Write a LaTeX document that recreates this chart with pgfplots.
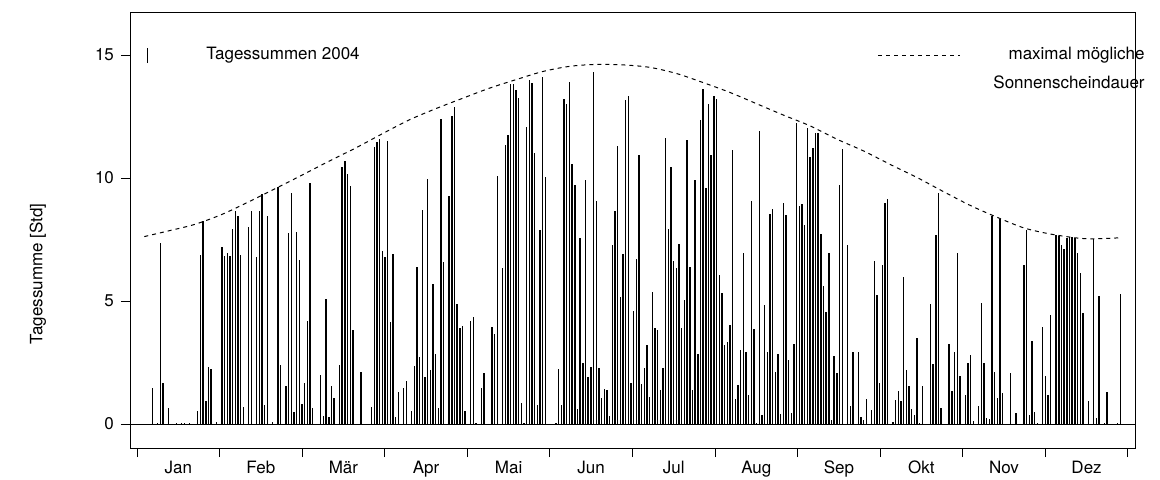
\documentclass[border=0pt]{standalone}
\usepackage{fontspec}
\setmainfont{TeX Gyre Heros}
\usepackage{pgfplots}
\pgfplotsset{compat=1.18}
\begin{document}
\begin{tikzpicture}
\begin{axis}[
  name=ax,
  at={(0,0)}, anchor=south west,
  scale only axis,
  width=502.5pt, height=218pt,
  xmin=-4.35, xmax=371.5,
  ymin=-0.976, ymax=16.75,
  axis line style={line width=0.5pt},
  tick align=outside,
  xtick pos=bottom, ytick pos=left,
  ytick={0,5,10,15},
  major tick length=4.5pt,
  tick style={black, line width=0.5pt},
  xtick={-1.73,29.15,60.03,90.91,121.79,152.67,183.55,214.43,245.31,276.19,307.07,337.95,368.83},
  xticklabels={},
  extra x ticks={13.71,44.59,75.47,106.35,137.23,168.11,198.99,229.87,260.75,291.63,322.51,353.39},
  extra x tick labels={Jan,Feb,Mär,Apr,Mai,Jun,Jul,Aug,Sep,Okt,Nov,Dez},
  extra x tick style={major tick length=0pt, xticklabel style={yshift=-3pt}},
  ticklabel style={font=\fontsize{8.5}{10}\selectfont},
  /pgf/number format/assume math mode=true,
  clip=false,
]
% zero line
\addplot[black, line width=0.5pt] coordinates {(-4.35,0) (371.5,0)};
% daily sums
\addplot[ycomb, black, line width=0.7pt, mark=none] coordinates {
(4,1.48) (6,0.05) (7,7.35) (8,1.65) (10,0.66) (13,0.05) (15,0.05) (16,0.05) (18,0.05) (21,0.53) (22,6.88) (23,8.25) (24,0.93) (25,2.33) (26,2.25) (28,0.1)
(30,7.21) (31,6.84) (32,6.94) (33,6.83) (34,7.93) (35,8.66) (36,8.46) (37,6.88) (38,0.68) (40,8.02) (41,8.64) (43,6.80) (44,8.65) (45,9.35) (46,0.77) (47,8.44) (49,0.1) (51,9.63) (52,2.39) (54,1.56) (55,7.76) (56,9.39) (57,0.49) (58,7.79) (59,6.65) (60,0.82) (61,1.66)
(62,4.2) (63,9.81) (64,0.64) (67,1.99) (68,0.33) (69,5.07) (70,0.28) (71,1.54) (72,1.06) (74,2.40) (75,10.46) (76,10.69) (77,10.15) (78,9.67) (79,3.83) (82,2.13) (86,0.69) (87,11.25) (88,11.48) (89,11.59) (90,7.02) (91,6.78)
(92,11.50) (93,4.16) (94,6.92) (95,0.30) (96,1.30) (98,1.48) (99,1.73) (101,0.53) (102,2.37) (103,6.40) (104,2.74) (105,8.69) (106,1.92) (107,9.96) (108,2.20) (109,5.69) (110,2.83) (111,0.65) (112,12.39) (113,6.59) (115,9.28) (116,12.52) (117,12.90) (118,4.87) (119,3.92) (120,3.98) (121,0.52)
(123,4.19) (124,4.35) (125,0.05) (127,1.46) (128,2.09) (131,3.94) (132,3.65) (133,10.08) (135,6.34) (136,11.34) (137,11.73) (138,13.81) (139,13.82) (140,13.58) (141,13.27) (142,0.85) (143,0.05) (144,12.07) (145,13.97) (146,13.85) (147,11.03) (148,0.77) (149,7.89) (150,14.09) (151,10.05)
(155,0.05) (156,2.22) (157,0.77) (158,13.2) (159,13.0) (160,13.89) (161,10.56) (162,9.73) (163,0.61) (164,7.55) (165,2.47) (166,9.91) (167,1.91) (168,2.30) (169,14.3) (170,9.05) (171,2.28) (172,1.06) (173,1.41) (174,1.37) (175,0.31) (176,7.28) (177,8.67) (178,11.29) (179,5.15) (180,6.90) (181,13.17) (182,13.32) (183,1.66) (184,4.59) (185,6.71)
(186,10.93) (187,1.61) (188,2.26) (189,3.22) (190,1.10) (191,5.35) (192,3.92) (193,3.82) (194,1.40) (195,2.26) (196,11.63) (197,7.93) (198,10.46) (199,6.61) (200,6.34) (201,7.32) (202,3.91) (203,5.05) (204,11.56) (205,6.38) (206,1.39) (207,9.91) (208,2.85) (209,12.36) (210,13.6) (211,9.61) (212,13.0) (213,10.92) (214,13.32) (215,13.23)
(216,6.06) (217,5.31) (218,3.21) (219,3.32) (220,4.02) (221,11.14) (222,1.03) (223,1.59) (224,3.0) (225,6.95) (226,2.91) (227,1.17) (228,9.05) (229,3.87) (230,0.05) (231,11.91) (232,0.37) (233,4.82) (234,2.91) (235,8.52) (236,8.73) (237,2.10) (238,2.83) (239,0.41) (240,8.97) (241,8.50) (242,2.60) (243,0.46) (244,3.26) (245,12.25) (246,8.86) (247,8.93)
(248,8.09) (249,12.02) (250,10.87) (251,11.21) (252,11.83) (253,11.82) (254,7.72) (255,5.61) (256,4.55) (257,6.94) (258,0.16) (259,2.75) (260,2.06) (261,9.73) (262,11.19) (264,7.29) (265,0.73) (266,2.93) (268,2.93) (269,0.28) (270,0.16) (271,1.03) (273,0.56) (274,6.63) (275,5.24) (276,1.65) (277,6.46) (278,8.97) (279,9.13)
(281,0.1) (282,0.98) (283,1.33) (284,0.92) (285,5.98) (286,2.18) (287,1.56) (288,0.60) (289,0.35) (290,3.48) (291,0.05) (292,1.53) (295,4.86) (296,2.44) (297,7.67) (298,9.39) (299,0.65) (302,3.25) (303,1.35) (304,2.94) (305,6.94) (306,1.95) (308,1.18) (309,2.49) (310,2.80)
(311,0.13) (313,0.74) (314,4.91) (315,2.49) (316,0.23) (317,0.19) (318,8.46) (319,2.10) (320,1.07) (321,8.35) (322,1.25) (325,2.06) (327,0.46) (330,6.48) (331,7.90) (332,0.35) (333,3.36) (334,0.49) (335,0.05) (337,3.96) (338,1.95) (339,1.19) (340,4.43)
(342,7.70) (343,7.64) (344,7.28) (345,7.10) (346,7.56) (347,7.59) (348,7.59) (349,7.56) (350,6.94) (351,6.13) (352,4.50) (354,0.93) (356,7.52) (357,0.26) (358,5.20) (360,0.05) (361,1.30) (365,0.05) (366,5.27)
};
% maximum possible sunshine duration
\addplot[black, line width=0.5pt, dash pattern=on 2pt off 2pt, smooth] coordinates {
(1,7.62) (10,7.85) (20,8.12) (30,8.52) (40,9.03) (50,9.57) (60,10.12) (70,10.68) (80,11.22) (90,11.80) (100,12.36) (110,12.82) (120,13.24) (130,13.65) (140,14.00) (150,14.33) (160,14.54) (170,14.62) (180,14.60) (190,14.50) (200,14.25) (210,13.88) (220,13.48) (230,13.02) (240,12.56) (250,12.12) (260,11.58) (270,11.10) (280,10.55) (290,10.02) (300,9.44) (310,8.88) (320,8.40) (330,7.97) (340,7.72) (350,7.56) (356,7.53) (366,7.57)
};
\end{axis}
% legend
\draw[line width=0.5pt] (8.5pt,192.5pt) -- (8.5pt,200pt);
\node[anchor=west, inner sep=0pt, font=\fontsize{8.5}{10}\selectfont] at (38pt,196.5pt) {Tagessummen 2004};
\draw[line width=0.5pt, dash pattern=on 2pt off 2pt] (374pt,196.5pt) -- (415pt,196.5pt);
\node[anchor=east, inner sep=0pt, font=\fontsize{8.5}{10}\selectfont] at (507.5pt,196.5pt) {maximal mögliche};
\node[anchor=east, inner sep=0pt, font=\fontsize{8.5}{10}\selectfont] at (507.5pt,183pt) {Sonnenscheindauer};
% y label
\node[rotate=90, font=\fontsize{8.5}{10}\selectfont] at (-46pt,87pt) {Tagessumme [Std]};
\pgfresetboundingbox
\path[use as bounding box] (-65pt,-15.5pt) rectangle (515pt,224pt);
\end{tikzpicture}
\end{document}
